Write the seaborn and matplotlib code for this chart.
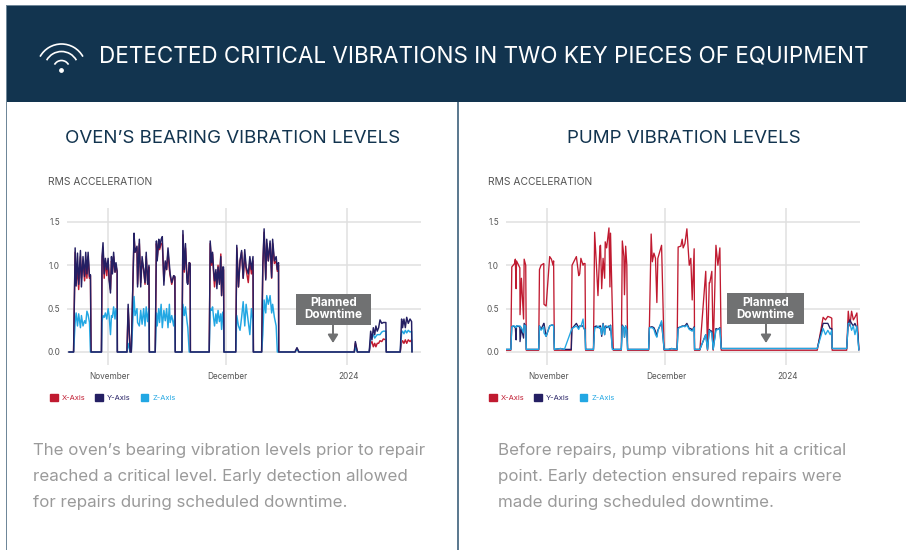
import pandas as pd
import matplotlib.pyplot as plt
import seaborn as sns
from matplotlib.patches import Rectangle, Arc, Patch
from matplotlib.transforms import ScaledTranslation

# days counted from 1 Nov 2023
oven_days = [-9.9, -8.7,
    -8.3, -8.05, -7.7, -7.4, -6.95, -6.7, -6.3, -5.9, -5.6, -5.3, -5.0, -4.65, -4.4, -4.25,
    -1.6, -1.45, -1.2, -0.9, -0.6, -0.25, 0.1, 0.35, 0.7, 0.95, 1.2, 1.5, 1.85, 2.1, 2.4, 2.45,
    4.9, 5.2, 5.7, 6.0,
    6.7, 6.95, 7.45, 7.6, 8.05, 8.4, 8.75, 9.15, 9.5, 9.8, 10.15, 10.5, 10.6,
    12.1, 12.4, 12.6, 13.0, 13.2, 13.6, 13.9, 14.3, 14.65, 15.0, 15.35, 15.7, 15.9, 16.3, 16.8, 17.1, 17.2,
    18.9, 19.15, 19.5, 19.8, 20.2, 20.4, 20.75, 21.0, 21.05,
    25.85, 26.1, 26.45, 26.7, 26.95, 27.2, 27.55, 27.8, 28.1, 28.45, 28.8, 29.0, 29.3, 29.5, 29.6,
    32.6, 32.87, 33.3, 33.7, 34.1, 34.5, 34.9, 35.25, 35.8, 36.2, 36.6, 37.0, 37.1,
    39.2, 39.5, 39.83, 40.25, 40.5, 40.9, 41.35, 41.75, 42.0, 42.45, 42.9, 43.2, 43.5, 43.55,
    47.7, 48.2, 48.7,
    62.8, 63.07, 63.6,
    66.6, 66.97, 67.3, 67.65, 68.0, 68.3, 68.65, 69.0, 69.35, 69.8, 70.2, 70.85, 70.95,
    74.5, 74.85, 75.1, 75.45, 75.8, 76.15, 76.55, 77.0, 77.4, 77.5]

oven_x = [0, 0,
    1.15, 0.8, 0.95, 0.72, 1.1, 0.85, 1.05, 0.82, 1.0, 0.85, 1.1, 0.85, 0.88, 0,
    0, 1.05, 1.2, 0.85, 1.05, 0.88, 1.05, 0.85, 0.72, 1.05, 0.92, 1.1, 0.92, 1.0, 0.92, 0,
    0, 0.5, 0, 0,
    1.33, 1.15, 1.2, 0.78, 1.25, 0.8, 1.05, 0.95, 0.78, 1.1, 0.82, 0.98, 0,
    0, 1.25, 1.08, 1.27, 1.18, 1.25, 1.25, 0.82, 1.03, 0.95, 1.15, 0.95, 0.88, 0.78, 0.88, 0.86, 0,
    0, 1.35, 0.92, 1.2, 0.85, 0.8, 1.03, 1.02, 0,
    0, 1.25, 1.0, 1.13, 0.92, 0.75, 0.92, 0.78, 1.0, 0.8, 1.13, 0.65, 0.95, 0.95, 0,
    0, 1.2, 0.75, 1.05, 1.15, 0.85, 1.12, 0.95, 0.8, 1.05, 0.9, 1.05, 0,
    0, 0.98, 1.38, 0.85, 1.25, 1.05, 1.25, 0.85, 1.25, 1.02, 1.05, 0.93, 1.0, 0,
    0, 0.04, 0,
    0, 0.1, 0,
    0, 0.1, 0.12, 0.06, 0.1, 0.06, 0.1, 0.1, 0.13, 0.12, 0.15, 0.14, 0,
    0, 0.11, 0.13, 0.1, 0.14, 0.1, 0.14, 0.12, 0.14, 0]

oven_y = [0, 0,
    1.2, 0.76, 1.14, 0.78, 1.17, 0.75, 1.1, 0.87, 1.15, 0.9, 1.15, 0.87, 0.89, 0,
    0, 1.1, 1.26, 0.9, 1.08, 0.95, 1.08, 0.83, 0.68, 1.1, 0.9, 1.15, 0.92, 1.03, 0.93, 0,
    0, 0.55, 0, 0,
    1.37, 1.15, 1.22, 0.75, 1.3, 0.75, 1.1, 0.95, 0.8, 1.15, 0.78, 1.0, 0,
    0, 1.28, 1.05, 1.3, 1.2, 1.3, 1.33, 0.77, 1.05, 0.95, 1.2, 1.0, 0.9, 0.8, 0.88, 0.87, 0,
    0, 1.4, 0.95, 1.25, 0.8, 0.78, 1.03, 1.02, 0,
    0, 1.28, 1.03, 1.15, 0.95, 0.82, 0.95, 0.73, 0.98, 0.78, 1.1, 0.65, 0.98, 0.98, 0,
    0, 1.23, 0.75, 1.05, 1.17, 0.85, 1.18, 0.98, 0.9, 1.1, 0.95, 1.1, 0,
    0, 1.0, 1.42, 0.83, 1.3, 1.05, 1.28, 0.86, 1.3, 1.05, 1.1, 0.95, 1.03, 0,
    0, 0.05, 0,
    0, 0.12, 0,
    0, 0.24, 0.14, 0.28, 0.2, 0.3, 0.24, 0.28, 0.37, 0.33, 0.34, 0.34, 0,
    0, 0.38, 0.28, 0.38, 0.28, 0.4, 0.33, 0.38, 0.35, 0]

oven_z = [0, 0,
    0.34, 0.45, 0.30, 0.44, 0.28, 0.42, 0.3, 0.36, 0.33, 0.47, 0.43, 0.34, 0, 0,
    0, 0.35, 0.42, 0.4, 0.45, 0.38, 0.5, 0.42, 0.2, 0.42, 0.4, 0.52, 0.38, 0.5, 0.42, 0,
    0, 0.1, 0, 0,
    0.64, 0.42, 0.5, 0.34, 0.3, 0.48, 0.32, 0.5, 0.3, 0.52, 0.35, 0.5, 0,
    0, 0.45, 0.3, 0.5, 0.34, 0.55, 0.28, 0.48, 0.36, 0.5, 0.28, 0.55, 0.34, 0.42, 0.3, 0.42, 0,
    0, 0.55, 0.42, 0.52, 0.35, 0.28, 0, 0, 0,
    0, 0.5, 0.48, 0.52, 0.4, 0.3, 0.44, 0.33, 0.48, 0.35, 0.44, 0.26, 0.46, 0.38, 0,
    0, 0.42, 0.3, 0.25, 0.4, 0.58, 0.3, 0.55, 0.35, 0.2, 0.5, 0.35, 0,
    0, 0.2, 0.6, 0.45, 0.65, 0.55, 0.65, 0.45, 0.55, 0.4, 0.3, 0, 0, 0,
    0, 0.03, 0,
    0, 0.05, 0,
    0, 0.15, 0.18, 0.2, 0.16, 0.18, 0.2, 0.2, 0.2, 0.23, 0.24, 0.24, 0,
    0, 0.22, 0.24, 0.21, 0.25, 0.22, 0.25, 0.23, 0.24, 0]

pump_days = [-10.4, -9.15,
    -8.9, -8.55, -8.2, -8.0, -7.8, -7.7, -6.85, -6.8, -6.45, -5.9, -5.75, -5.35, -5.2,
    -2.05, -1.85, -1.45, -0.75, -0.7, -0.15, 0.75, 1.2, 1.6, 1.75, 1.95,
    3.5, 4.5, 6.25, 6.45, 7.55, 8.15, 8.4, 8.7, 9.25, 9.45, 9.75, 9.9,
    11.9, 12.2, 12.6, 13.05, 13.55, 13.7, 14.0, 14.35, 14.75, 14.9, 15.25, 15.85, 16.1, 16.25, 16.7, 16.95,
    19.0, 19.25, 19.65, 19.8, 20.1, 20.4, 20.6,
    25.95, 26.15, 26.6, 26.9, 27.3, 27.7, 28.05, 28.3, 29.25, 29.9,
    31.0, 31.8, 33.2, 33.47, 34.15, 34.5, 34.75, 35.2, 35.7, 36.3, 36.7, 37.05, 37.55, 37.65,
    39.0, 40.5, 40.95, 41.4, 41.55, 42.05, 42.4, 43.1, 43.6, 44.1, 44.45,
    68.9, 70.4, 71.0, 71.6, 72.2, 72.6, 72.7,
    76.4, 76.8, 77.2, 77.65, 78.1, 78.5, 79.0, 79.25, 79.5]

pump_x = [0.02, 0.02,
    0.98, 1.0, 1.02, 1.07, 0.73, 1.05, 0.97, 0.43, 0.85, 0.38, 1.07, 1.0, 0.02,
    0.02, 0.95, 1.0, 1.02, 0.55, 0.53, 1.1, 1.07, 1.0, 1.05, 0.02,
    0.02, 0.02, 0.02, 1.0, 1.1, 0.88, 0.9, 1.08, 1.0, 1.02, 1.02, 0.02,
    0.02, 1.38, 1.05, 0.65, 1.22, 1.23, 0.73, 1.08, 0.85, 1.27, 1.2, 1.43, 0.75, 1.37, 0.5, 0.02,
    0.02, 1.28, 1.1, 0.66, 1.22, 1.0, 0.02,
    0.02, 0.3, 1.36, 1.04, 1.14, 1.08, 0.57, 1.08, 1.23, 0.02,
    0.02, 0.02, 0.02, 1.21, 1.22, 1.3, 1.2, 1.25, 1.42, 1.0, 1.08, 0.6, 1.19, 0.02,
    0.02, 0.93, 0.02, 0.8, 0.8, 0.93, 0.02, 1.23, 1.0, 1.2, 0.02,
    0.02, 0.4, 0.37, 0.41, 0.4, 0.39, 0.02,
    0.02, 0.47, 0.3, 0.47, 0.37, 0.4, 0.45, 0.25, 0.02]

pump_y = [0.03, 0.03,
    0.29, 0.3, 0.29, 0.28, 0.14, 0.3, 0.29, 0.12, 0.27, 0.16, 0.33, 0.3, 0.03,
    0.03, 0.3, 0.26, 0.33, 0.33, 0.18, 0.3, 0.31, 0.31, 0.3, 0.03,
    0.04, 0.03, 0.03, 0.27, 0.33, 0.28, 0.3, 0.3, 0.3, 0.27, 0.26, 0.03,
    0.03, 0.29, 0.3, 0.28, 0.3, 0.3, 0.18, 0.33, 0.2, 0.3, 0.28, 0.3, 0.25, 0.31, 0.05, 0.03,
    0.03, 0.31, 0.28, 0.17, 0.3, 0.26, 0.03,
    0.03, 0.28, 0.29, 0.29, 0.28, 0.24, 0.18, 0.25, 0.34, 0.03,
    0.03, 0.04, 0.03, 0.28, 0.29, 0.3, 0.3, 0.3, 0.33, 0.27, 0.27, 0.25, 0.29, 0.03,
    0.03, 0.2, 0.03, 0.26, 0.25, 0.24, 0.03, 0.27, 0.26, 0.28, 0.04,
    0.04, 0.33, 0.33, 0.33, 0.27, 0.27, 0.04,
    0.04, 0.33, 0.37, 0.33, 0.3, 0.33, 0.28, 0.2, 0.03]

pump_z = [0.03, 0.03,
    0.29, 0.3, 0.3, 0.29, 0.28, 0.3, 0.3, 0.3, 0.28, 0.22, 0.31, 0.3, 0.03,
    0.03, 0.3, 0.25, 0.29, 0.22, 0.18, 0.3, 0.31, 0.31, 0.3, 0.03,
    0.04, 0.03, 0.25, 0.27, 0.3, 0.26, 0.3, 0.29, 0.38, 0.27, 0.26, 0.03,
    0.03, 0.28, 0.28, 0.3, 0.27, 0.28, 0.2, 0.32, 0.2, 0.28, 0.3, 0.28, 0.3, 0.3, 0.03, 0.03,
    0.03, 0.3, 0.28, 0.17, 0.3, 0.25, 0.03,
    0.03, 0.28, 0.28, 0.28, 0.26, 0.2, 0.17, 0.24, 0.36, 0.03,
    0.03, 0.04, 0.03, 0.27, 0.29, 0.29, 0.3, 0.29, 0.31, 0.26, 0.25, 0.24, 0.28, 0.03,
    0.03, 0.2, 0.03, 0.25, 0.24, 0.22, 0.03, 0.25, 0.26, 0.27, 0.04,
    0.04, 0.27, 0.2, 0.25, 0.2, 0.25, 0.04,
    0.04, 0.33, 0.33, 0.25, 0.3, 0.2, 0.3, 0.15, 0.02]

y_ticks = [0.0, 0.5, 1.0, 1.5]
x_tick_dates = ['2023-11-01', '2023-12-01', '2024-01-01']
x_tick_labels = ['November', 'December', '2024']
series_names = ['X-Axis', 'Y-Axis', 'Z-Axis']
series_colors = ['#c01a30', '#241f63', '#22a7e3']

sns.set_theme(style='white')
plt.rcParams['font.family'] = ['Inter', 'DejaVu Sans']

navy = '#12344f'
grey_text = '#9a9a9a'
fig = plt.figure(figsize=(9.06, 5.5), dpi=100)


def make_panel(left_px, right_px, days, x_vals, y_vals, z_vals, order, line_width):
    ax = fig.add_axes([left_px / 906, 1 - 365 / 550, (right_px - left_px) / 906, 157 / 550])
    dates = pd.Timestamp('2023-11-01') + pd.to_timedelta(days, unit='D')
    df = pd.DataFrame({'date': dates, 'X-Axis': x_vals, 'Y-Axis': y_vals, 'Z-Axis': z_vals})
    for name in order:
        color = series_colors[series_names.index(name)]
        sns.lineplot(data=df, x='date', y=name, ax=ax, color=color, linewidth=line_width,
                     estimator=None, sort=False)
    ax.set_xlim(pd.Timestamp('2023-10-21 15:00'), pd.Timestamp('2024-01-19 19:00'))
    ax.set_ylim(-0.15, 1.66)
    ax.set_yticks(y_ticks)
    ax.set_yticklabels([f'{t:.1f}' for t in y_ticks])
    ax.set_xticks(pd.to_datetime(x_tick_dates))
    ax.set_xticklabels(x_tick_labels)
    ax.tick_params(axis='both', length=0, labelsize=5.9, labelcolor='#555555')
    ax.tick_params(axis='x', pad=5)
    ax.tick_params(axis='y', pad=5)
    # month names sit slightly right of their gridlines in the original
    shift = ScaledTranslation(1.5 / 100, 0, fig.dpi_scale_trans)
    for lab in ax.get_xticklabels():
        lab.set_transform(lab.get_transform() + shift)
    ax.set_xlabel('')
    ax.set_ylabel('')
    ax.grid(True, color='#e0e0e0', linewidth=1.1)
    ax.set_axisbelow(True)
    sns.despine(ax=ax, left=True, bottom=True)
    handles = [Patch(color=c, label=n) for c, n in zip(series_colors, series_names)]
    ax.legend(handles=handles, loc='upper left', bbox_to_anchor=(-0.048, -0.185), ncol=3, frameon=False,
              fontsize=5.4, labelcolor=series_colors, handlelength=1.0, handleheight=1.0,
              handletextpad=0.55, columnspacing=1.35, borderpad=0, borderaxespad=0)
    return ax


make_panel(67, 421, oven_days, oven_x, oven_y, oven_z, ['X-Axis', 'Z-Axis', 'Y-Axis'], 1.05)
make_panel(506, 860, pump_days, pump_x, pump_y, pump_z, ['X-Axis', 'Y-Axis', 'Z-Axis'], 0.95)

# page furniture, drawn on a full figure axes in pixel units
page = fig.add_axes([0, 0, 1, 1], zorder=10)
page.set_xlim(0, 906)
page.set_ylim(550, 0)
page.axis('off')

page.add_patch(Rectangle((7, 6), 899, 96, color=navy, lw=0))
page.add_patch(Rectangle((6, 5), 900, 1, color='#6f8799', lw=0))
page.add_patch(Rectangle((6, 5), 1.4, 545, color='#6f8799', lw=0))
page.add_patch(Rectangle((457.4, 102), 1.6, 448, color='#5d7a90', lw=0))

# wifi icon
for r in [24.5, 17, 8]:
    page.add_patch(Arc((61.5, 68.5), 2 * r, 2 * r, theta1=209, theta2=331, color='white', lw=1.2))
page.scatter([61.3], [70], s=6, color='white', zorder=3)

page.text(99, 57, 'DETECTED CRITICAL VIBRATIONS IN TWO KEY PIECES OF EQUIPMENT', color='white',
          fontsize=16.15, va='center', ha='left')
page.text(233, 138.5, 'OVEN’S BEARING VIBRATION LEVELS', color=navy, fontsize=13.5, va='center', ha='center')
page.text(684, 138.5, 'PUMP VIBRATION LEVELS', color=navy, fontsize=13.5, va='center', ha='center')
page.text(48, 182, 'RMS ACCELERATION', color='#555555', fontsize=7.4, va='center')
page.text(488, 182, 'RMS ACCELERATION', color='#555555', fontsize=7.4, va='center')

left_body = ['The oven’s bearing vibration levels prior to repair',
             'reached a critical level. Early detection allowed',
             'for repairs during scheduled downtime.']
right_body = ['Before repairs, pump vibrations hit a critical',
              'point. Early detection ensured repairs were',
              'made during scheduled downtime.']
for i, line in enumerate(left_body):
    page.text(33, 451 + i * 26, line, color=grey_text, fontsize=12.2, va='center')
for i, line in enumerate(right_body):
    page.text(498, 451 + i * 26, line, color=grey_text, fontsize=12.2, va='center')

# planned downtime callouts
for x0, y0, w, arrow_x in [(296, 294, 75, 333), (727, 293, 76.5, 766)]:
    page.add_patch(Rectangle((x0, y0), w, 31, color='#707172', lw=0))
    page.text(x0 + w / 2, y0 + 15.5, 'Planned\nDowntime', color='white', fontsize=8.4, fontweight='bold',
              ha='center', va='center', linespacing=1.0)
    page.annotate('', xy=(arrow_x, 343), xytext=(arrow_x, y0 + 31),
                  arrowprops=dict(arrowstyle='-|>,head_width=0.25,head_length=0.4', color='#707172', lw=1.4,
                                  shrinkA=0, shrinkB=0))

fig.savefig('out.png', dpi=100)
